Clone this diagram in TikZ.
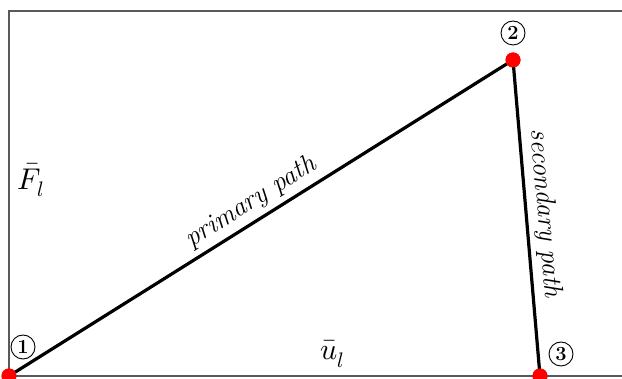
\documentclass[tikz,border=0pt]{standalone}
\usepackage{fontspec}
\usepackage{unicode-math}
\begin{document}
\begin{tikzpicture}[x=1pt,y=-1pt,
  frameline/.style={draw=black!65,line width=2pt},
  pathline/.style={draw=black,line width=3.2pt},
  dot/.style={circle,fill=red,inner sep=0pt,minimum size=15pt},
  numcirc/.style={circle,draw=black,line width=0.9pt,inner sep=0pt,minimum size=24pt,font=\fontsize{20}{20}\selectfont\bfseries},
  lbl/.style={font=\fontsize{27}{30}\selectfont\itshape},
  mlbl/.style={font=\fontsize{30}{34}\selectfont}]
\useasboundingbox (0,0) rectangle (622,379);
\coordinate (tl) at (9,11);
\coordinate (tr) at (622,11);
\coordinate (bl) at (9,376);
\coordinate (br) at (622,376);
\draw[frameline] (tr) -- (tl) -- (bl) -- (br);
\node[dot] (p1) at (9,376) {};
\node[dot] (p2) at (513,60) {};
\node[dot] (p3) at (540,376) {};
\draw[pathline] (p1.center) -- (p2.center) -- (p3.center);
\fill[red] (p1) circle (7.5); \fill[red] (p2) circle (7.5); \fill[red] (p3) circle (7.5);
\node[numcirc] (n1) at (23,347) {1};
\node[numcirc] (n2) at (513,33) {2};
\node[numcirc] (n3) at (561,354) {3};
\path (p1) -- (p2) node[lbl,pos=0.5,sloped,above=3pt] (prim) {primary path};
\path (p2) -- (p3) node[lbl,pos=0.49,sloped,above=3pt] (sec) {secondary path};
\node[mlbl] (F) at (31,180) {$\bar{F}_l$};
\node[mlbl] (u) at (332,354) {$\bar{u}_l$};
\end{tikzpicture}
\end{document}
